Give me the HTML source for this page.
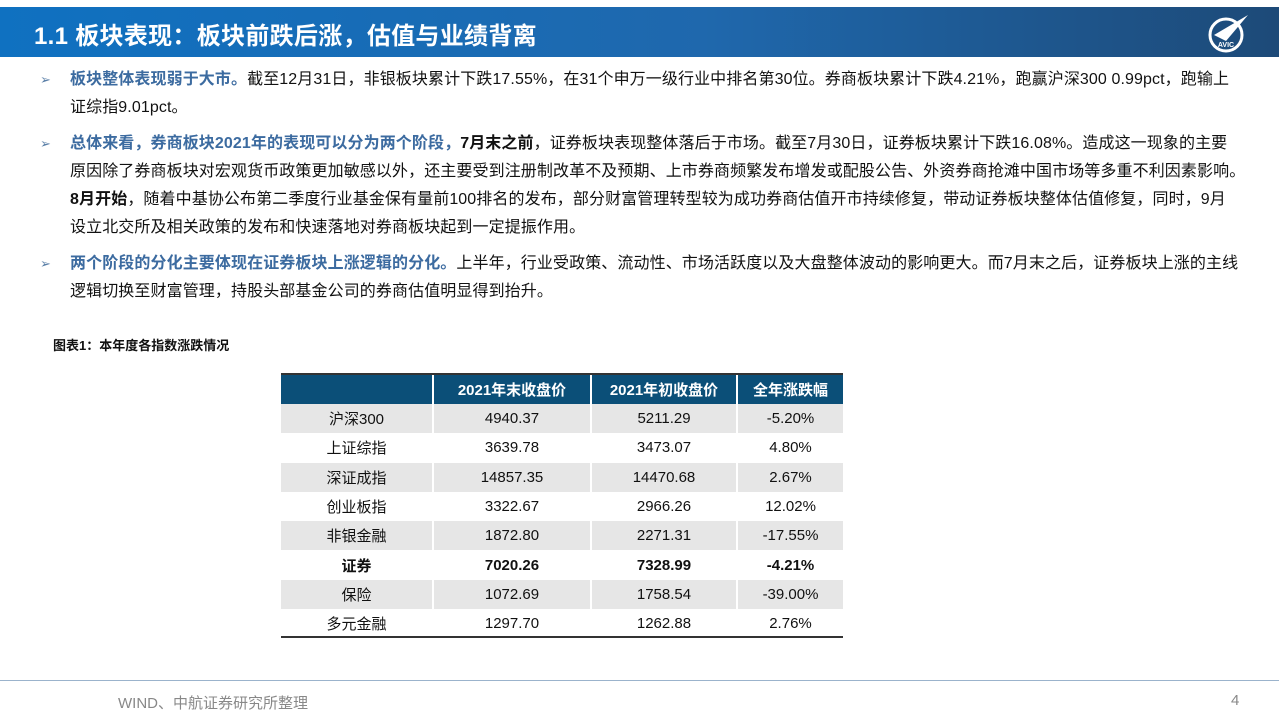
<!DOCTYPE html>
<html><head><meta charset="utf-8"><style>
body{margin:0;width:1279px;height:719px;background:#fff;position:relative;overflow:hidden;font-family:"Liberation Sans","Noto Sans CJK SC",sans-serif;color:#111}
.hdr{position:absolute;left:0;top:7px;width:1279px;height:50px;background:linear-gradient(90deg,#0f71c1 0%,#1f68ad 55%,#1d4a78 100%)}
.hdr h1{margin:0;position:absolute;left:34px;top:9px;font-size:24px;color:#fff;font-weight:bold;letter-spacing:0.3px}
.para{position:absolute;left:70px;font-size:16px;line-height:28px;letter-spacing:0.1px;white-space:nowrap}
.bul{position:absolute;left:40px;font-size:13px;color:#5a7fa8}
.b{color:#3c6ba0;font-weight:bold}
.k{font-weight:bold}
table{position:absolute;left:281px;top:373px;width:562px;border-collapse:collapse;font-size:15px}
th{background:#0b4f78;color:#fff;height:29px;font-weight:bold;border-left:2px solid #fff;border-top:2px solid #333;padding:0}
th:first-child{border-left:none}
td{height:29.3px;text-align:center;border-left:2px solid #fff;padding:0}
td:first-child{border-left:none}
tr.g td{background:#e6e6e6}
</style></head><body>
<div class="hdr"><h1>1.1 板块表现：板块前跌后涨，估值与业绩背离</h1>
<svg style="position:absolute;left:1204px;top:4px" width="46" height="44" viewBox="0 0 46 44"><circle cx="22" cy="24" r="16" fill="none" stroke="#fff" stroke-width="3"/><polygon points="10,24 44,4 22,30" fill="#fff"/><text x="22" y="36" font-size="7" fill="#fff" text-anchor="middle" font-weight="bold" font-family="Liberation Sans">AVIC</text></svg></div>

<div class="bul" style="top:72px">➢</div>
<div class="para" style="top:66px"><span class="b">板块整体表现弱于大市。</span>截至12月31日，非银板块累计下跌17.55%，在31个申万一级行业中排名第30位。券商板块累计下跌4.21%，跑赢沪深300 0.99pct，跑输上<br>证综指9.01pct。</div>
<div class="bul" style="top:136px">➢</div>
<div class="para" style="top:130px"><span class="b">总体来看，券商板块2021年的表现可以分为两个阶段，</span><span class="k">7月末之前</span>，证券板块表现整体落后于市场。截至7月30日，证券板块累计下跌16.08%。造成这一现象的主要<br>原因除了券商板块对宏观货币政策更加敏感以外，还主要受到注册制改革不及预期、上市券商频繁发布增发或配股公告、外资券商抢滩中国市场等多重不利因素影响。<br><span class="k">8月开始</span>，随着中基协公布第二季度行业基金保有量前100排名的发布，部分财富管理转型较为成功券商估值开市持续修复，带动证券板块整体估值修复，同时，9月<br>设立北交所及相关政策的发布和快速落地对券商板块起到一定提振作用。</div>
<div class="bul" style="top:256px">➢</div>
<div class="para" style="top:250px"><span class="b">两个阶段的分化主要体现在证券板块上涨逻辑的分化。</span>上半年，行业受政策、流动性、市场活跃度以及大盘整体波动的影响更大。而7月末之后，证券板块上涨的主线<br>逻辑切换至财富管理，持股头部基金公司的券商估值明显得到抬升。</div>

<div style="position:absolute;left:53px;top:335px;font-size:13px;font-weight:bold">图表1：本年度各指数涨跌情况</div>

<table>
<colgroup><col style="width:152px"><col style="width:158px"><col style="width:146px"><col style="width:106px"></colgroup>
<tr><th></th><th>2021年末收盘价</th><th>2021年初收盘价</th><th>全年涨跌幅</th></tr>
<tr class="g"><td>沪深300</td><td>4940.37</td><td>5211.29</td><td>-5.20%</td></tr>
<tr><td>上证综指</td><td>3639.78</td><td>3473.07</td><td>4.80%</td></tr>
<tr class="g"><td>深证成指</td><td>14857.35</td><td>14470.68</td><td>2.67%</td></tr>
<tr><td>创业板指</td><td>3322.67</td><td>2966.26</td><td>12.02%</td></tr>
<tr class="g"><td>非银金融</td><td>1872.80</td><td>2271.31</td><td>-17.55%</td></tr>
<tr style="font-weight:bold"><td>证券</td><td>7020.26</td><td>7328.99</td><td>-4.21%</td></tr>
<tr class="g"><td>保险</td><td>1072.69</td><td>1758.54</td><td>-39.00%</td></tr>
<tr><td>多元金融</td><td>1297.70</td><td>1262.88</td><td>2.76%</td></tr>
</table>
<div style="position:absolute;left:281px;top:636px;width:562px;height:1.5px;background:#333"></div>

<div style="position:absolute;left:0;top:680px;width:1279px;height:1px;background:#9bb3cc"></div>
<div style="position:absolute;left:118px;top:692px;font-size:15px;color:#888">WIND、中航证券研究所整理</div>
<div style="position:absolute;left:1231px;top:692px;font-size:15px;color:#888">4</div>
</body></html>
